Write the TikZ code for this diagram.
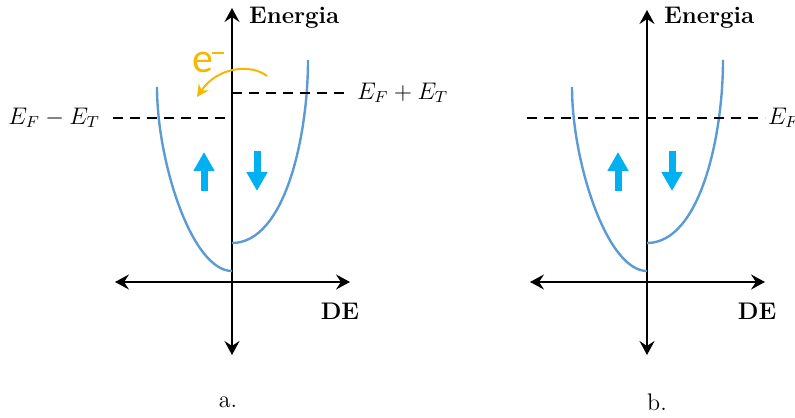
\documentclass[tikz,border=0pt]{standalone}
\usepackage{fontspec}
\newfontfamily\calfont{Carlito}
\usetikzlibrary{arrows.meta}
\definecolor{bandblue}{HTML}{5B9BD5}
\definecolor{spinblue}{HTML}{00B0F0}
\definecolor{elgold}{HTML}{F5B800}
\begin{document}
\begin{tikzpicture}[x=0.5pt,y=0.5pt,every node/.style={font=\large},
  axis/.style={line width=1.3pt,{Stealth[length=7pt,width=7.5pt,inset=2.5pt]}-{Stealth[length=7pt,width=7.5pt,inset=2.5pt]}},
  band/.style={bandblue,line width=1.2pt},
  spin/.style={spinblue,line width=3.5pt,-{Triangle[length=9.5pt,width=10pt]}},
  level/.style={line width=1pt,dash pattern=on 5pt off 3.5pt},
  hop/.style={elgold,line width=1pt,-{Stealth[length=6pt,width=6pt]}}]
\useasboundingbox (-232,-135) rectangle (563,282);
% a. split bands with an electron hopping between the two Fermi levels
\begin{scope}
\coordinate (a-top) at (0,274); \coordinate (a-bot) at (0,-73);
\coordinate (a-left) at (-117,0); \coordinate (a-right) at (118,0);
\draw[axis] (a-bot) -- (a-top);
\draw[axis] (a-left) -- (a-right);
\node[anchor=west,font=\large\bfseries] (a-en) at (10,264) {Energia};
\node[font=\large\bfseries] (a-de) at (108,-29) {DE};
\draw[band] (0,11) .. controls (-40,11) and (-75,120) .. (-75,195);
\draw[band] (0,39) .. controls (53,39) and (76,146) .. (76,222);
\coordinate (a-lo) at (-119,164); \coordinate (a-lo0) at (0,164);
\coordinate (a-hi0) at (0,189); \coordinate (a-hi) at (118,189);
\draw[level] (a-lo) -- (a-lo0);
\draw[level] (a-hi0) -- (a-hi);
\node[left=3pt] (a-lolab) at (a-lo) {$E_F - E_T$};
\node[right=0pt] (a-hilab) at (a-hi) {$E_F + E_T$};
\coordinate (a-up0) at (-28,91); \coordinate (a-up1) at (-28,130);
\coordinate (a-dn0) at (25,131); \coordinate (a-dn1) at (25,91);
\draw[spin] (a-up0) -- (a-up1);
\draw[spin] (a-dn0) -- (a-dn1);
\coordinate (a-e0) at (35,206); \coordinate (a-e1) at (-35,185);
\draw[hop] (a-e0) .. controls (20,218) and (-14,216) .. (a-e1);
\node[anchor=base west,inner sep=0pt,text=elgold,font=\calfont\fontsize{21}{23}\selectfont] (a-el) at (-40,209) {e\kern-0.5pt\rule[9.5pt]{6pt}{1.1pt}};
\node (a-cap) at (-4,-120) {a.};
\end{scope}
% b. no splitting, one common Fermi level
\begin{scope}[shift={(415,0)}]
\coordinate (b-top) at (0,272); \coordinate (b-bot) at (0,-73);
\coordinate (b-left) at (-117,0); \coordinate (b-right) at (118,0);
\draw[axis] (b-bot) -- (b-top);
\draw[axis] (b-left) -- (b-right);
\node[anchor=west,font=\large\bfseries] (b-en) at (10,264) {Energia};
\node[font=\large\bfseries] (b-de) at (110,-29) {DE};
\draw[band] (0,11) .. controls (-40,11) and (-75,120) .. (-75,195);
\draw[band] (0,39) .. controls (53,39) and (76,146) .. (76,222);
\coordinate (b-lo) at (-120,164); \coordinate (b-hi) at (118,164);
\draw[level] (b-lo) -- (b-hi);
\node[right=-2pt] (b-lab) at (b-hi) {$E_F$};
\coordinate (b-up0) at (-29,91); \coordinate (b-up1) at (-29,130);
\coordinate (b-dn0) at (25,131); \coordinate (b-dn1) at (25,91);
\draw[spin] (b-up0) -- (b-up1);
\draw[spin] (b-dn0) -- (b-dn1);
\node (b-cap) at (10,-120) {b.};
\end{scope}
\end{tikzpicture}
\end{document}
